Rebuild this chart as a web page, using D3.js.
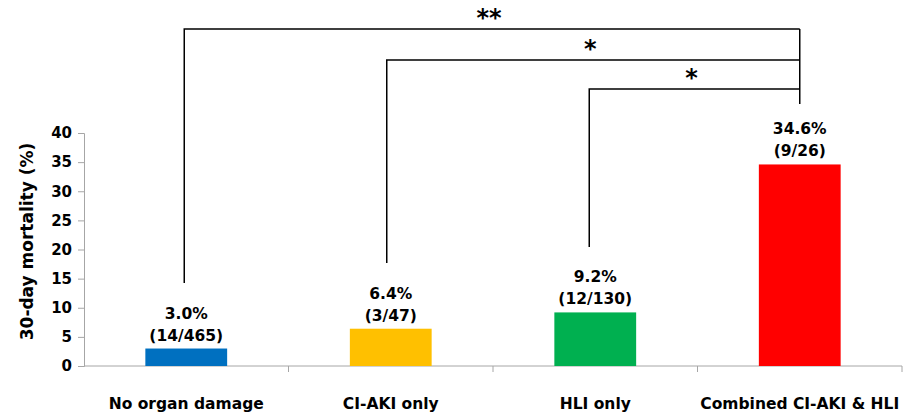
<!DOCTYPE html>
<meta charset="utf-8">
<script src="https://d3js.org/d3.v7.min.js"></script>
<style>
  body { margin: 0; background: #fff; }
  text { font-family: "DejaVu Sans", Verdana, sans-serif; font-weight: bold; }
</style>
<div id="chart"></div>
<script>
// data
var groups = ["No organ damage", "CI-AKI only", "HLI only", "Combined CI-AKI & HLI"];
var mortality = [3.0, 6.4, 9.2, 34.6];
var counts = ["(14/465)", "(3/47)", "(12/130)", "(9/26)"];
var colors = ["#0070C0", "#FFC000", "#00B050", "#FF0000"];
var yTicks = [0, 5, 10, 15, 20, 25, 30, 35, 40];
// comparisons against the combined group: [from group, to group, label]
var comparisons = [[0, 3, "**"], [1, 3, "*"], [2, 3, "*"]];

var W = 909, H = 413;
var margin = {top: 133, right: 7, bottom: 47, left: 84},
    width = W - margin.left - margin.right,
    height = H - margin.top - margin.bottom;

var svg = d3.select("#chart").append("svg")
    .attr("width", W).attr("height", H)
  .append("g")
    .attr("transform", "translate(" + margin.left + "," + margin.top + ")");

var x = d3.scaleBand().domain(groups).range([0, width]).paddingInner(0.6).paddingOuter(0.3);
var band = d3.scaleBand().domain(groups).range([0, width]);
var y = d3.scaleLinear().domain([0, 40]).range([height, 0]);

// y axis
var yAxis = svg.append("g")
  .call(d3.axisLeft(y).tickValues(yTicks).tickSize(6).tickPadding(6));
yAxis.selectAll("line, path").attr("stroke", "#a6a6a6");
yAxis.selectAll("text").attr("fill", "#000").style("font-size", "15px")
  .style("font-family", "DejaVu Sans").style("font-weight", "bold");

// x axis line and category separators
svg.append("line").attr("x1", 0).attr("x2", width).attr("y1", height).attr("y2", height)
  .attr("stroke", "#a6a6a6");
svg.selectAll(".sep").data(groups).enter().append("line")
  .attr("x1", function(d) { return band(d) + band.bandwidth(); })
  .attr("x2", function(d) { return band(d) + band.bandwidth(); })
  .attr("y1", height).attr("y2", height + 6)
  .attr("stroke", "#a6a6a6");

// bars
svg.selectAll("rect").data(groups).enter().append("rect")
  .attr("x", function(d) { return x(d); })
  .attr("y", function(d, i) { return y(mortality[i]); })
  .attr("width", x.bandwidth())
  .attr("height", function(d, i) { return height - y(mortality[i]); })
  .attr("fill", function(d, i) { return colors[i]; });

// value labels
var cx = function(d) { return x(d) + x.bandwidth() / 2; };
svg.selectAll(".pct").data(groups).enter().append("text")
  .attr("x", cx)
  .attr("y", function(d, i) { return y(mortality[i]) - 30; })
  .attr("text-anchor", "middle").style("font-size", "15.5px")
  .text(function(d, i) { return mortality[i].toFixed(1) + "%"; });
svg.selectAll(".cnt").data(groups).enter().append("text")
  .attr("x", cx)
  .attr("y", function(d, i) { return y(mortality[i]) - 8; })
  .attr("text-anchor", "middle").style("font-size", "15.5px")
  .text(function(d, i) { return counts[i]; });

// category labels
svg.selectAll(".cat").data(groups).enter().append("text")
  .attr("x", cx).attr("y", height + 43)
  .attr("text-anchor", "middle").style("font-size", "15.5px")
  .text(function(d) { return d; });

// y title
svg.append("text")
  .attr("transform", "translate(-51," + (height / 2 - 8) + ") rotate(-90)")
  .attr("text-anchor", "middle").style("font-size", "17px")
  .text("30-day mortality (%)");

// significance brackets
var levels = [29, 60, 89];   // page y of bracket tops
var ends = [283, 263, 247];  // page y where left legs stop
var legShift = [-2, -4, -6]; // legs sit a little left of bar centres
var rightEnd = 104;
comparisons.forEach(function(c, i) {
  var x1 = cx(groups[c[0]]) + legShift[i], x2 = cx(groups[c[1]]);
  var top = levels[i] - margin.top;
  svg.append("path")
    .attr("d", "M" + x1 + "," + (ends[i] - margin.top) + "V" + top + "H" + x2)
    .attr("fill", "none").attr("stroke", "#000").attr("stroke-width", 1.5);
  svg.append("text")
    .attr("x", (x1 + x2) / 2 - 3).attr("y", top - 3)
    .attr("text-anchor", "middle").style("font-size", "24px")
    .text(c[2]);
});
svg.append("line")
  .attr("x1", cx(groups[3])).attr("x2", cx(groups[3]))
  .attr("y1", levels[0] - margin.top).attr("y2", rightEnd - margin.top)
  .attr("stroke", "#000").attr("stroke-width", 1.5);
</script>
